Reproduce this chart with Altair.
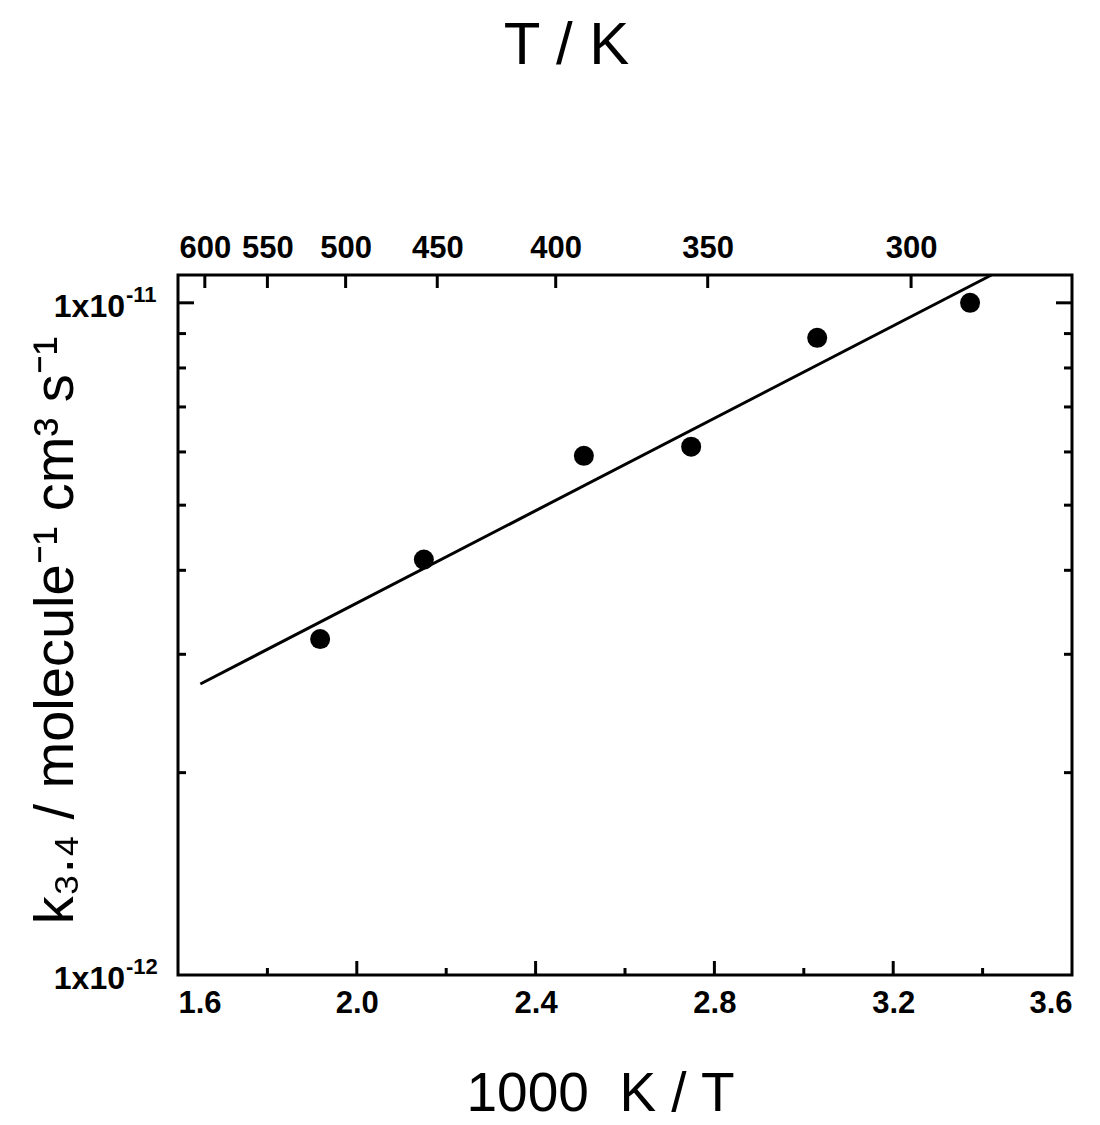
import altair as alt
import pandas as pd

# data
x_data = [1.918, 2.150, 2.508, 2.748, 3.030, 3.372]
k_data = [3.16e-12, 4.15e-12, 5.92e-12, 6.11e-12, 8.87e-12, 1.0e-11]
fit_x = [1.65, 3.42]
fit_k = [2.71e-12, 1.10e-11]

bottom_labels = [1.6, 2.0, 2.4, 2.8, 3.2, 3.6]
bottom_major = [2.0, 2.4, 2.8, 3.2]
bottom_minor = [1.8, 2.2, 2.6, 3.0, 3.4]
top_T = ["600", "550", "500", "450", "400", "350", "300"]
top_pos = [1.66, 1.80, 1.975, 2.18, 2.445, 2.785, 3.24]
y_labels = [1e-12, 1e-11]
y_label_base = ["1x10", "1x10"]
y_label_exp = ["-12", "-11"]
y_major = [1e-11]
y_minor = [2e-12, 3e-12, 4e-12, 5e-12, 6e-12, 7e-12, 8e-12, 9e-12]

W, H = 894, 700
FONT = "Liberation Sans"

xs = alt.Scale(domain=[1.6, 3.6], nice=False, zero=False)
ys = alt.Scale(type="log", domain=[1e-12, 1.1e-11], nice=False)

pts = pd.DataFrame({"x": x_data, "k": k_data})
fit = pd.DataFrame({"x": fit_x, "k": fit_k})
ylab = pd.DataFrame({"k": y_labels, "base": y_label_base, "exp": y_label_exp})

top_expr = ""
for p, lab in zip(top_pos, top_T):
    top_expr += f"abs(datum.value-{p})<1e-6 ? '{lab}' : "
top_expr += "''"

points = alt.Chart(pts).mark_circle(size=400, color="black", opacity=1).encode(
    x=alt.X("x:Q", scale=xs, axis=alt.Axis(
        orient="bottom", values=bottom_labels, format=".1f", ticks=False, domain=False,
        grid=False, labelFontSize=31, labelFont=FONT, labelFontWeight="bold", labelColor="black",
        labelPadding=13, title="1000\u00a0\u00a0K / T", titleFontSize=55, titleFont=FONT,
        titleFontWeight="normal", titleColor="black", titleX=422, titleY=135,
        titleBaseline="alphabetic", titleAlign="center")),
    y=alt.Y("k:Q", scale=ys, axis=alt.Axis(
        orient="left", values=y_labels, ticks=False, domain=False, grid=False,
        labels=False, title="k₃.₄ / molecule⁻¹ cm³ s⁻¹", titleFontSize=56,
        titleFont=FONT, titleFontWeight="normal", titleColor="black",
        titleX=-106, titleY=355, titleAngle=270, titleBaseline="alphabetic",
        titleAlign="center")),
)

line = alt.Chart(fit).mark_line(color="black", strokeWidth=3).encode(
    x=alt.X("x:Q", scale=xs, axis=None),
    y=alt.Y("k:Q", scale=ys, axis=None),
)

top_df = pd.DataFrame({"x": top_pos})
top_ticks = alt.Chart(top_df).mark_rule(color="black", strokeWidth=3).encode(
    x=alt.X("x:Q", scale=xs, axis=alt.Axis(
        orient="top", values=top_pos, labelExpr=top_expr, ticks=False, domain=False,
        grid=False, labelFontSize=31, labelFont=FONT, labelFontWeight="bold",
        labelColor="black", labelPadding=11, title="T / K", titleFontSize=60,
        titleFont=FONT, titleFontWeight="normal", titleColor="black",
        titleX=388, titleY=-212, titleBaseline="alphabetic", titleAlign="center")),
    y=alt.value(0), y2=alt.value(13),
)

ylab_base = alt.Chart(ylab).mark_text(
    align="right", baseline="alphabetic", dy=14, fontSize=32, fontWeight="bold",
    font=FONT, color="black").encode(
    y=alt.Y("k:Q", scale=ys, axis=None), x=alt.value(-53), text="base:N")
ylab_exp = alt.Chart(ylab).mark_text(
    align="left", baseline="alphabetic", dy=-1, fontSize=22, fontWeight="bold",
    font=FONT, color="black").encode(
    y=alt.Y("k:Q", scale=ys, axis=None), x=alt.value(-52), text="exp:N")

bmaj = alt.Chart(pd.DataFrame({"x": bottom_major})).mark_rule(color="black", strokeWidth=3).encode(
    x=alt.X("x:Q", scale=xs, axis=None), y=alt.value(H), y2=alt.value(H - 14))
bmin = alt.Chart(pd.DataFrame({"x": bottom_minor})).mark_rule(color="black", strokeWidth=3).encode(
    x=alt.X("x:Q", scale=xs, axis=None), y=alt.value(H), y2=alt.value(H - 7))

lmaj = alt.Chart(pd.DataFrame({"k": y_major})).mark_rule(color="black", strokeWidth=3).encode(
    y=alt.Y("k:Q", scale=ys, axis=None), x=alt.value(0), x2=alt.value(16))
lmin = alt.Chart(pd.DataFrame({"k": y_minor})).mark_rule(color="black", strokeWidth=3).encode(
    y=alt.Y("k:Q", scale=ys, axis=None), x=alt.value(0), x2=alt.value(8))
rmaj = alt.Chart(pd.DataFrame({"k": y_major})).mark_rule(color="black", strokeWidth=3).encode(
    y=alt.Y("k:Q", scale=ys, axis=None), x=alt.value(W), x2=alt.value(W - 16))
rmin = alt.Chart(pd.DataFrame({"k": y_minor})).mark_rule(color="black", strokeWidth=3).encode(
    y=alt.Y("k:Q", scale=ys, axis=None), x=alt.value(W), x2=alt.value(W - 8))

chart = alt.layer(points, line, top_ticks, ylab_base, ylab_exp,
                  bmaj, bmin, lmaj, lmin, rmaj, rmin).resolve_axis(
    x="independent", y="independent"
).properties(
    width=W, height=H, autosize=alt.AutoSizeParams(type="none"),
    padding={"left": 178, "top": 275, "right": 28, "bottom": 150},
    background="white",
).configure_view(stroke="black", strokeWidth=3)

chart.save("out.html", embed_options={"renderer": "svg", "actions": False})
